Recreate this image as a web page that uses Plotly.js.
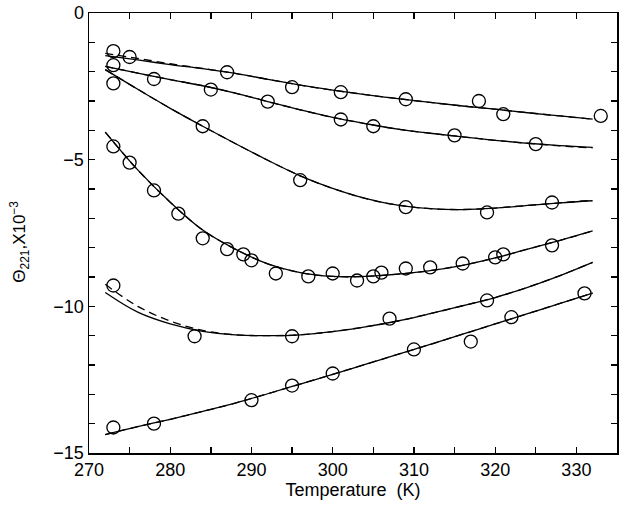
<!DOCTYPE html>
<html><head><meta charset="utf-8">
<script src="https://cdn.plot.ly/plotly-3.0.1.min.js"></script>
<style>html,body{margin:0;padding:0;background:#fff}#chart{width:624px;height:510px}</style>
</head><body><div id="chart"></div>
<script>
// Measured points (temperature K, value x10^-3)
const s1x = [273, 275, 287, 295, 301, 309, 318, 321, 333];
const s1y = [-1.3, -1.5, -2.02, -2.53, -2.7, -2.94, -3.0, -3.45, -3.51];
const s2x = [273, 278, 285, 292, 301, 305, 315, 325];
const s2y = [-1.78, -2.25, -2.61, -3.02, -3.63, -3.86, -4.17, -4.47];
const s3x = [273, 284, 296, 309, 319, 327];
const s3y = [-2.4, -3.86, -5.7, -6.62, -6.8, -6.46];
const s4x = [273, 275, 278, 281, 284, 287, 289, 290, 293, 297, 300, 303, 305, 306, 309, 312, 316, 320, 321, 327];
const s4y = [-4.55, -5.1, -6.05, -6.84, -7.68, -8.05, -8.23, -8.43, -8.88, -8.98, -8.88, -9.12, -8.98, -8.85, -8.71, -8.67, -8.54, -8.33, -8.23, -7.92];
const s5x = [273, 283, 295, 307, 319];
const s5y = [-9.29, -11.02, -11.02, -10.42, -9.8];
const s6x = [273, 278, 290, 295, 300, 310, 317, 322, 331];
const s6y = [-14.13, -14.0, -13.2, -12.7, -12.29, -11.47, -11.2, -10.37, -9.56];

// Fitted curves
const fx = [272, 276, 280, 284, 288, 292, 296, 300, 304, 308, 312, 316, 320, 324, 328, 332];
const f1 = [-1.45, -1.6, -1.76, -1.9, -2.06, -2.26, -2.46, -2.63, -2.78, -2.92, -3.05, -3.17, -3.28, -3.4, -3.51, -3.62];
const f1d = [-1.38, -1.55, -1.73, -1.89, -2.06, -2.26, -2.46, -2.63, -2.78, -2.92, -3.05, -3.17, -3.28, -3.4, -3.51, -3.62];
const f2 = [-1.82, -2.05, -2.27, -2.48, -2.73, -3.02, -3.3, -3.56, -3.77, -3.96, -4.1, -4.22, -4.34, -4.44, -4.52, -4.58];
const f2d = [-1.82, -2.05, -2.27, -2.48, -2.73, -3.02, -3.3, -3.56, -3.77, -3.96, -4.1, -4.22, -4.34, -4.44, -4.53, -4.6];
const f3 = [-1.93, -2.6, -3.25, -3.86, -4.45, -5.02, -5.55, -5.98, -6.32, -6.55, -6.67, -6.7, -6.65, -6.56, -6.47, -6.4];
const f3d = [-1.93, -2.6, -3.25, -3.86, -4.45, -5.02, -5.55, -5.98, -6.32, -6.55, -6.67, -6.7, -6.65, -6.56, -6.47, -6.38];
const f4 = [-4.06, -5.35, -6.45, -7.4, -8.05, -8.55, -8.85, -8.98, -8.98, -8.9, -8.78, -8.6, -8.35, -8.05, -7.75, -7.43];
const f4d = [-4.06, -5.35, -6.45, -7.4, -8.05, -8.55, -8.85, -8.98, -8.98, -8.9, -8.78, -8.6, -8.35, -8.05, -7.75, -7.43];
const f5 = [-9.53, -10.2, -10.6, -10.85, -10.97, -11.0, -10.97, -10.86, -10.7, -10.5, -10.25, -9.98, -9.7, -9.35, -8.95, -8.5];
const f5d = [-9.25, -10.0, -10.5, -10.82, -10.97, -11.0, -10.97, -10.86, -10.7, -10.5, -10.25, -9.98, -9.7, -9.35, -8.95, -8.5];
const f6 = [-14.37, -14.1, -13.85, -13.58, -13.3, -12.98, -12.65, -12.32, -11.98, -11.64, -11.3, -10.95, -10.6, -10.25, -9.9, -9.55];
const f6d = f6;

const traces = [];
const fits = [f1, f2, f3, f4, f5, f6];
const fitsD = [f1d, f2d, f3d, f4d, f5d, f6d];
fits.forEach(f => traces.push({x: fx, y: f, mode: 'lines', line: {color: '#000', width: 1.3, shape: 'spline'}, hoverinfo: 'skip'}));
fitsD.forEach(f => traces.push({x: fx, y: f, mode: 'lines', line: {color: '#000', width: 1.3, dash: '8px,5px', shape: 'spline'}, hoverinfo: 'skip'}));
const pts = [[s1x, s1y], [s2x, s2y], [s3x, s3y], [s4x, s4y], [s5x, s5y], [s6x, s6y]];
pts.forEach(p => traces.push({x: p[0], y: p[1], mode: 'markers', marker: {symbol: 'circle-open', size: 13, color: '#000', line: {width: 1.3, color: '#000'}}}));

const font = {family: 'Liberation Sans, Arial, sans-serif', size: 18, color: '#000'};
const layout = {
  width: 624, height: 510,
  margin: {l: 89, r: 7, t: 13, b: 57},
  paper_bgcolor: '#fff', plot_bgcolor: '#fff',
  showlegend: false,
  font: font,
  xaxis: {
    range: [270, 335], tickvals: [270, 280, 290, 300, 310, 320, 330],
    ticks: 'inside', ticklen: 6, tickwidth: 1.3, tickcolor: '#000',
    minor: {dtick: 5, tick0: 270, ticks: 'inside', ticklen: 6, tickwidth: 1.3, tickcolor: '#000'},
    showgrid: false, zeroline: false, showline: true, linecolor: '#000', linewidth: 1.5, mirror: 'ticks',
    tickfont: font, title: {text: 'Temperature  (K)', font: font, standoff: 4}
  },
  yaxis: {
    range: [-15, 0], tickvals: [-15, -10, -5, 0], ticktext: ['\u221215', '\u221210', '\u22125', '0'],
    ticks: 'inside', ticklen: 6, tickwidth: 1.3, tickcolor: '#000',
    minor: {dtick: 1, tick0: 0, ticks: 'inside', ticklen: 6, tickwidth: 1.3, tickcolor: '#000'},
    showgrid: false, zeroline: false, showline: true, linecolor: '#000', linewidth: 1.5, mirror: 'ticks',
    tickfont: font
  },
  annotations: [{
    text: '\u0398<sub>221</sub>,X10<sup>\u22123</sup>', textangle: -90,
    xref: 'paper', yref: 'paper', x: -0.131, y: 0.48, xanchor: 'center', yanchor: 'middle',
    showarrow: false, font: {family: font.family, size: 17, color: '#000'}
  }]
};
Plotly.newPlot('chart', traces, layout, {displayModeBar: false, staticPlot: true});
</script></body></html>
